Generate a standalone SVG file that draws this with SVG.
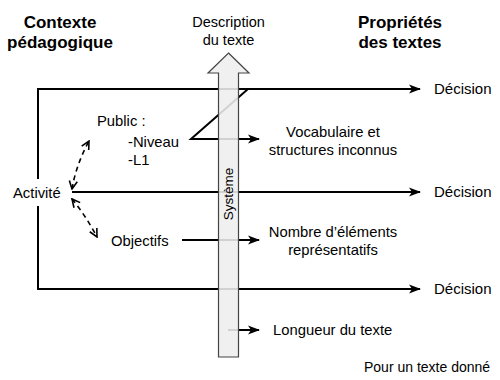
<svg xmlns="http://www.w3.org/2000/svg" width="500" height="380" viewBox="0 0 500 380">
<style>
text{font-family:"Liberation Sans",Arial,sans-serif;fill:#000}
.h{font-weight:bold;font-size:17px}
.t{font-size:14.8px}
.d{font-size:15px}
.ln{fill:none;stroke:#000;stroke-width:2}
.ds{fill:none;stroke:#000;stroke-width:1.6;stroke-dasharray:5,4}
</style>
<defs>
<marker id="ah" viewBox="0 0 12 10" refX="11" refY="5" markerWidth="12" markerHeight="10" markerUnits="userSpaceOnUse" orient="auto">
<path d="M0,0.5 L12,5 L0,9.5 L3,5 z" fill="#000"/>
</marker>
<marker id="ov" viewBox="0 0 10 10" refX="9" refY="5" markerWidth="10" markerHeight="10" markerUnits="userSpaceOnUse" orient="auto-start-reverse">
<path d="M1,1 L9,5 L1,9" fill="none" stroke="#000" stroke-width="1.6"/>
</marker>
</defs>
<g id="headers">
<text class="h" x="60" y="28" text-anchor="middle">Contexte</text>
<text class="h" x="60" y="48" text-anchor="middle">pédagogique</text>
<text class="h" x="400" y="28" text-anchor="middle">Propriétés</text>
<text class="h" x="400" y="48" text-anchor="middle">des textes</text>
<text x="228.5" y="27" font-size="14.5" text-anchor="middle">Description</text>
<text x="228.5" y="45" font-size="14.5" text-anchor="middle">du texte</text>
</g>
<g id="connectors">
<path class="ln" d="M420,89 H38 V179"/>
<path class="ln" d="M38,206 V289 H420" marker-end="url(#ah)"/>
<path class="ln" d="M38,89 H420" marker-end="url(#ah)"/>
<path class="ln" d="M248,89 L191,139 H259" marker-end="url(#ah)"/>
<path class="ln" d="M72,192 H420" marker-end="url(#ah)"/>
<path class="ln" d="M182,240 H259" marker-end="url(#ah)"/>
<path class="ln" d="M228,330 H259" marker-end="url(#ah)"/>
<path class="ds" d="M72,189 Q76,165 89,141" marker-start="url(#ov)" marker-end="url(#ov)"/>
<path class="ds" d="M72,199 Q86,216 97,237" marker-start="url(#ov)" marker-end="url(#ov)"/>
</g>
<g id="systeme">
<polygon points="228.5,53 249,73 238.5,73 238.5,357 218.5,357 218.5,73 208,73" fill="#eeeeee" fill-opacity="0.88" stroke="#444" stroke-width="1.2"/>
<text x="0" y="0" font-size="13.5" text-anchor="middle" transform="translate(233,194) rotate(-90)">Système</text>
</g>
<g id="public">
<text class="t" x="97" y="126">Public :</text>
<text class="t" x="128" y="147">-Niveau</text>
<text class="t" x="128" y="165">-L1</text>
</g>
<g id="activite"><text class="t" x="13" y="198">Activité</text></g>
<g id="objectifs"><text class="t" x="111" y="246">Objectifs</text></g>
<g id="vocab">
<text class="t" x="333" y="137" text-anchor="middle">Vocabulaire et</text>
<text class="t" x="333" y="155" text-anchor="middle">structures inconnus</text>
</g>
<g id="nombre">
<text class="t" x="333" y="237" text-anchor="middle">Nombre d’éléments</text>
<text class="t" x="333" y="255" text-anchor="middle">représentatifs</text>
</g>
<g id="longueur"><text class="t" x="273" y="335">Longueur du texte</text></g>
<g id="decisions">
<text class="d" x="434" y="94">Décision</text>
<text class="d" x="434" y="197">Décision</text>
<text class="d" x="434" y="294">Décision</text>
</g>
<g id="note"><text x="364" y="372" font-size="14">Pour un texte donné</text></g>
</svg>
